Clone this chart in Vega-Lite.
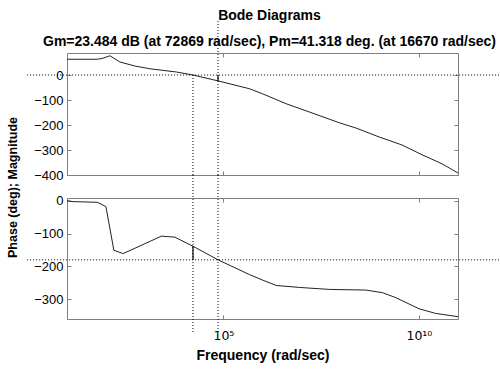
{
  "$schema": "https://vega.github.io/schema/vega-lite/v6.json",
  "padding": {"left": 5, "top": 8, "right": 0, "bottom": 0},
  "config": {
    "font": "Liberation Sans",
    "view": {"stroke": "#7f7f7f", "strokeWidth": 1},
    "axis": {"domain": false, "grid": false, "ticks": true, "tickSize": -4, "tickColor": "#7f7f7f", "labelFont": "Liberation Sans", "labelFontSize": 13, "labelColor": "#000", "labelPadding": 8, "titleFont": "Liberation Sans", "titleFontSize": 13, "titleFontWeight": "bold", "titleColor": "#000"},
    "title": {"font": "Liberation Sans", "fontSize": 14, "fontWeight": "bold", "color": "#000", "subtitleFont": "Liberation Sans", "subtitleFontSize": 14, "subtitleFontWeight": "bold", "subtitleColor": "#000"}
  },
  "spacing": 23,
  "bounds": "flush",
  "vconcat": [
    {
      "width": 391,
      "height": 122,
      "title": {"text": "Bode Diagrams", "subtitle": "Gm=23.484 dB (at 72869 rad/sec), Pm=41.318 deg. (at 16670 rad/sec)", "subtitlePadding": 12, "anchor": "middle", "frame": "group", "dx": 7, "offset": -28},
      "layer": [
        {
          "data": {"values": [{"f":10,"db":63},{"f":58.2,"db":63},{"f":79.4,"db":66},{"f":125,"db":77},{"f":225,"db":52},{"f":543,"db":36},{"f":1309,"db":25},{"f":6310,"db":12},{"f":16670,"db":0},{"f":72869,"db":-23.5},{"f":465600,"db":-55},{"f":1000000,"db":-75},{"f":4030000,"db":-115},{"f":15850000,"db":-148},{"f":92000000,"db":-191},{"f":245000000,"db":-212},{"f":966000000,"db":-248},{"f":3720000000,"db":-280},{"f":12000000000,"db":-319},{"f":38900000000,"db":-355},{"f":100000000000,"db":-392}]},
          "mark": {"type": "line", "color": "#222222", "strokeWidth": 1, "clip": true},
          "encoding": {
            "x": {"field": "f", "type": "quantitative", "scale": {"type": "log", "domain": [10, 100000000000]}, "axis": {"orient": "bottom", "values": [100000, 10000000000], "labels": false, "title": null}},
            "y": {"field": "db", "type": "quantitative", "scale": {"domain": [-400, 88], "nice": false, "zero": false}, "axis": {"orient": "left", "values": [0, -100, -200, -300, -400], "title": null}}
          }
        },
        {
          "data": {"values": [{"y": 0, "xa": 0.955, "xb": 1120000000000}]},
          "mark": {"type": "rule", "color": "#000", "strokeWidth": 1, "strokeDash": [1, 2], "clip": false},
          "encoding": {
            "x": {"field": "xa", "type": "quantitative", "scale": {"type": "log", "domain": [10, 100000000000]}, "axis": {"orient": "top", "values": [100000, 10000000000], "labels": false, "title": null}},
            "x2": {"field": "xb"},
            "y": {"field": "y", "type": "quantitative", "scale": {"domain": [-400, 88], "nice": false, "zero": false}, "axis": {"orient": "right", "values": [0, -100, -200, -300, -400], "labels": false, "title": null}}
          }
        },
        {
          "data": {"values": [{"f": 16670, "ya": 0, "yb": -400}, {"f": 72869, "ya": 216, "yb": -400}]},
          "mark": {"type": "rule", "color": "#000", "strokeWidth": 1, "strokeDash": [1, 2], "clip": false},
          "encoding": {
            "x": {"field": "f", "type": "quantitative", "scale": {"type": "log", "domain": [10, 100000000000]}, "axis": null},
            "y": {"field": "ya", "type": "quantitative", "scale": {"domain": [-400, 88], "nice": false, "zero": false}, "axis": null},
            "y2": {"field": "yb"}
          }
        },
        {
          "data": {"values": [{"f": 72869, "ya": 0, "yb": -23.5}]},
          "mark": {"type": "rule", "color": "#000", "strokeWidth": 1.2, "clip": false},
          "encoding": {
            "x": {"field": "f", "type": "quantitative", "scale": {"type": "log", "domain": [10, 100000000000]}, "axis": null},
            "y": {"field": "ya", "type": "quantitative", "scale": {"domain": [-400, 88], "nice": false, "zero": false}, "axis": null},
            "y2": {"field": "yb"}
          }
        }
      ],
      "resolve": {"axis": {"x": "independent", "y": "independent"}}
    },
    {
      "width": 391,
      "height": 121,
      "layer": [
        {
          "data": {"values": [{"f":10,"deg":0},{"f":14.2,"deg":-3},{"f":59.3,"deg":-5},{"f":98.9,"deg":-18},{"f":158,"deg":-151},{"f":273,"deg":-161},{"f":2606,"deg":-108},{"f":5689,"deg":-111},{"f":16670,"deg":-138.7},{"f":72869,"deg":-180},{"f":465600,"deg":-225},{"f":1020000,"deg":-242},{"f":2240000,"deg":-258},{"f":8790000,"deg":-264},{"f":51200000,"deg":-270},{"f":442000000,"deg":-272},{"f":1170000000,"deg":-280},{"f":2570000000,"deg":-295},{"f":10100000000,"deg":-329},{"f":26900000000,"deg":-343},{"f":100000000000,"deg":-353}]},
          "mark": {"type": "line", "color": "#222222", "strokeWidth": 1, "clip": true},
          "encoding": {
            "x": {"field": "f", "type": "quantitative", "scale": {"type": "log", "domain": [10, 100000000000]}, "axis": {"orient": "bottom", "values": [100000, 10000000000], "labelExpr": "datum.value == 100000 ? '10⁵' : '10¹⁰'", "labelFont": "DejaVu Sans", "labelFontSize": 12.5, "labelPadding": 14, "title": "Frequency (rad/sec)", "titleFontSize": 14, "titlePadding": 7}},
            "y": {"field": "deg", "type": "quantitative", "scale": {"domain": [-360, 8], "nice": false, "zero": false}, "axis": {"orient": "left", "values": [0, -100, -200, -300], "title": "Phase (deg); Magnitude", "titleFontSize": 12.5, "titleAngle": -90, "titleX": -55, "titleY": -11, "titleAlign": "center", "titleBaseline": "middle"}}
          }
        },
        {
          "data": {"values": [{"y": -180, "xa": 0.955, "xb": 1120000000000}]},
          "mark": {"type": "rule", "color": "#000", "strokeWidth": 1, "strokeDash": [1, 2], "clip": false},
          "encoding": {
            "x": {"field": "xa", "type": "quantitative", "scale": {"type": "log", "domain": [10, 100000000000]}, "axis": {"orient": "top", "values": [100000, 10000000000], "labels": false, "title": null}},
            "x2": {"field": "xb"},
            "y": {"field": "y", "type": "quantitative", "scale": {"domain": [-360, 8], "nice": false, "zero": false}, "axis": {"orient": "right", "values": [0, -100, -200, -300], "labels": false, "title": null}}
          }
        },
        {
          "data": {"values": [{"f": 16670, "ya": 78, "yb": -400}, {"f": 72869, "ya": 78, "yb": -400}]},
          "mark": {"type": "rule", "color": "#000", "strokeWidth": 1, "strokeDash": [1, 2], "clip": false},
          "encoding": {
            "x": {"field": "f", "type": "quantitative", "scale": {"type": "log", "domain": [10, 100000000000]}, "axis": null},
            "y": {"field": "ya", "type": "quantitative", "scale": {"domain": [-360, 8], "nice": false, "zero": false}, "axis": null},
            "y2": {"field": "yb"}
          }
        },
        {
          "data": {"values": [{"f": 16670, "ya": -180, "yb": -138.7}]},
          "mark": {"type": "rule", "color": "#000", "strokeWidth": 1.2, "clip": false},
          "encoding": {
            "x": {"field": "f", "type": "quantitative", "scale": {"type": "log", "domain": [10, 100000000000]}, "axis": null},
            "y": {"field": "ya", "type": "quantitative", "scale": {"domain": [-360, 8], "nice": false, "zero": false}, "axis": null},
            "y2": {"field": "yb"}
          }
        }
      ],
      "resolve": {"axis": {"x": "independent", "y": "independent"}}
    }
  ]
}
